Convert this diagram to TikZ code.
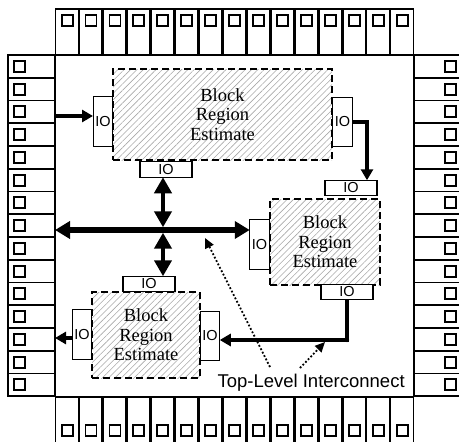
\documentclass[tikz,border=0pt]{standalone}
\usepackage{fontspec}
\setmainfont{Liberation Serif}
\setsansfont{Liberation Sans}
\usepackage{tikz}
\usetikzlibrary{arrows.meta,positioning,patterns.meta}
\definecolor{hatch}{HTML}{A8A8A8}

\begin{document}
\begin{tikzpicture}[
  x=1pt,y=-1pt,
  hpad/.style={draw,line width=1.6pt,minimum width=22.73pt,minimum height=46pt,inner sep=0pt,outer sep=0pt},
  vpad/.style={draw,line width=1.7pt,minimum width=47pt,minimum height=22.75pt,inner sep=0pt,outer sep=0pt},
  sq/.style={draw,line width=1.8pt,minimum size=11pt,inner sep=0pt,outer sep=0pt},
  blk/.style={draw,dash pattern=on 7pt off 4pt,line width=1.6pt,pattern={Lines[angle=45,distance=4.5pt,line width=0.6pt]},pattern color=hatch,align=center,font=\fontsize{18.5}{19.5}\selectfont,inner sep=0pt,outer sep=0pt},
  io/.style={draw,fill=white,line width=1.3pt,inner sep=0pt,outer sep=0pt,font=\sffamily\fontsize{14.5}{14.5}\selectfont},
  ioh/.style={io,minimum width=52pt,minimum height=15.5pt},
  iov/.style={io,minimum width=19.5pt,minimum height=49.5pt},
  wire/.style={line width=3.3pt},
  bus/.style={line width=5.5pt,{Triangle[length=15pt,width=17pt]}-{Triangle[length=15pt,width=17pt]}},
  vbus/.style={line width=4.2pt,{Triangle[length=16pt,width=17pt]}-{Triangle[length=16pt,width=17pt]}},
  tip/.style={-{Triangle[length=11pt,width=12pt]}},
  note/.style={line width=1.8pt,dotted,-{Triangle[length=10pt,width=9pt]}},
  lbl/.style={font=\sffamily\fontsize{18.5}{18.5}\selectfont}
]
\useasboundingbox (0,0) rectangle (459,442);

\foreach \i in {1,...,15}{
  \node[hpad] (tp\i) at ({55+(\i-0.5)*23.93},32) {};
  \node[sq,below right=6pt and 6pt of tp\i.north west] {};
  \node[hpad] (bp\i) at ({55+(\i-0.5)*23.93},419.85) {};
  \node[sq,above right=6.5pt and 6pt of bp\i.south west] {};
  \node[vpad] (lp\i) at (31.5,{55+(\i-0.5)*22.75}) {};
  \node[sq,right=6pt of lp\i.west] {};
  \node[vpad] (rp\i) at (437.5,{55+(\i-0.5)*22.75}) {};
  \node[sq,left=5pt of rp\i.east] {};
}

\node[blk,minimum width=219pt,minimum height=91pt] (blk1) at (222.5,114.5) {Block\\Region\\Estimate};
\node[blk,minimum width=110pt,minimum height=86pt] (blk2) at (325,242) {Block\\Region\\Estimate};
\node[blk,minimum width=108pt,minimum height=86pt] (blk3) at (146,335) {Block\\Region\\Estimate};

\node[iov] (io1l) at (103,121.5) {IO};
\node[iov] (io1r) at (342.5,122) {IO};
\node[ioh] (io1b) at (166,169.5) {IO};
\node[ioh] (io2t) at (351,188) {IO};
\node[iov] (io2l) at (259.5,244.5) {IO};
\node[ioh] (io2b) at (347,292) {IO};
\node[ioh] (io3t) at (149,284) {IO};
\node[iov] (io3l) at (82,334.5) {IO};
\node[iov] (io3r) at (210,336) {IO};

\node[lbl,anchor=base west] (tli) at (214,387) {Top-Level Interconnect};

\coordinate (a1) at (93,116);
\coordinate (a3) at (72,338);
\coordinate (x) at (163,230);
\coordinate (k1) at (367,122);
\coordinate (k2) at (347,340);
\coordinate (d1) at (270,367);
\coordinate (e1) at (205,238);
\coordinate (d2) at (300,368);
\coordinate (e2) at (325,342);

\draw[wire,tip] (lp3.east |- a1) -- (a1);
\draw[bus] (x -| lp8.east) -- (x -| io2l.west);
\draw[vbus] (x |- io1b.south) -- ([yshift=2.7pt]x);
\draw[vbus] ([yshift=-2.7pt]x) -- (x |- io3t.north);
\draw[wire,tip] (io1r.east) -| (io2t.north -| k1);
\draw[wire,tip] (io2b.south) |- (io3r.east |- k2);
\fill (k2) circle (2.2);
\draw[wire,tip] (a3) -- (lp13.east |- a3);
\draw[note] (d1) -- (e1);
\draw[note] (d2) -- (e2);
\end{tikzpicture}
\end{document}
